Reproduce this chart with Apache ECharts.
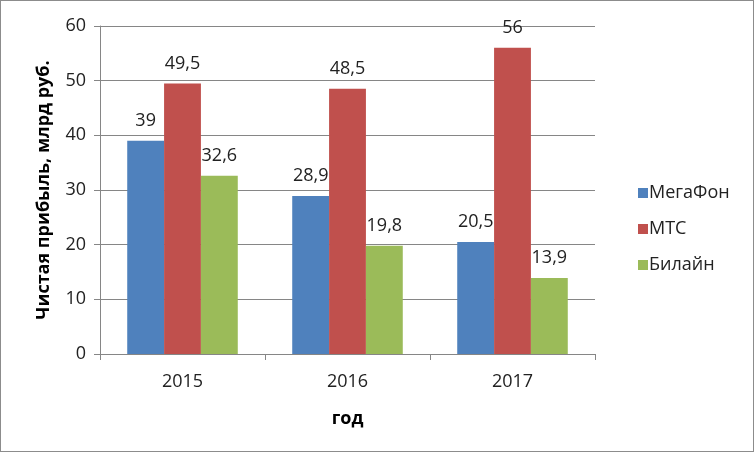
<!DOCTYPE html>
<html><head><meta charset="utf-8">
<script src="https://cdn.jsdelivr.net/npm/echarts@6/dist/echarts.min.js"></script>
<style>html,body{margin:0;padding:0;background:#fff}
#c{width:754px;height:452px;box-sizing:border-box;border:1px solid #8c8c8c;}</style>
</head><body><div id="c"></div>
<script>
const categories = ['2015', '2016', '2017'];
const megafon = [39, 28.9, 20.5];
const mts = [49.5, 48.5, 56];
const beeline = [32.6, 19.8, 13.9];
const seriesNames = ['МегаФон', 'МТС', 'Билайн'];
const colors = ['#4F81BD', '#C0504D', '#9BBB59'];
const font = '"Open Sans", "Noto Sans", sans-serif';
const chart = echarts.init(document.getElementById('c'), null, {renderer: 'canvas'});
const label = {show: true, position: 'top', distance: 11, fontFamily: font, fontSize: 18, color: '#222',
  formatter: p => String(p.value).replace('.', ',')};
function mk(name, data, color) {
  return {name, type: 'bar', data, barGap: '0%', barCategoryGap: '33%', itemStyle: {color}, label};
}
chart.setOption({
  animation: false,
  textStyle: {fontFamily: font},
  grid: {left: 99, right: 158, top: 25, bottom: 97, containLabel: false},
  legend: {
    orient: 'vertical', left: 632, top: 178, itemWidth: 10, itemHeight: 10, itemGap: 18, icon: 'rect',
    textStyle: {fontFamily: font, fontSize: 18, color: '#222', padding: [0, 0, 0, -4]},
    data: seriesNames
  },
  xAxis: {
    type: 'category', data: categories,
    name: 'год', nameLocation: 'middle', nameGap: 56,
    nameTextStyle: {fontFamily: font, fontSize: 18, fontWeight: 'bold', color: '#000'},
    axisLine: {lineStyle: {color: '#868686'}},
    axisTick: {show: true, length: 6, lineStyle: {color: '#868686'}},
    axisLabel: {fontFamily: font, fontSize: 18, color: '#222', margin: 19}
  },
  yAxis: {
    type: 'value', min: 0, max: 60, interval: 10,
    name: 'Чистая прибыль, млрд руб.', nameLocation: 'middle', nameGap: 47, nameRotate: 90,
    nameTextStyle: {fontFamily: font, fontSize: 18, fontWeight: 'bold', color: '#000'},
    axisLine: {show: true, lineStyle: {color: '#868686'}},
    axisTick: {show: true, length: 6, lineStyle: {color: '#868686'}},
    axisLabel: {fontFamily: font, fontSize: 18, color: '#222', margin: 14},
    splitLine: {lineStyle: {color: '#868686'}}
  },
  series: [mk(seriesNames[0], megafon, colors[0]), mk(seriesNames[1], mts, colors[1]), mk(seriesNames[2], beeline, colors[2])]
});
</script></body></html>
